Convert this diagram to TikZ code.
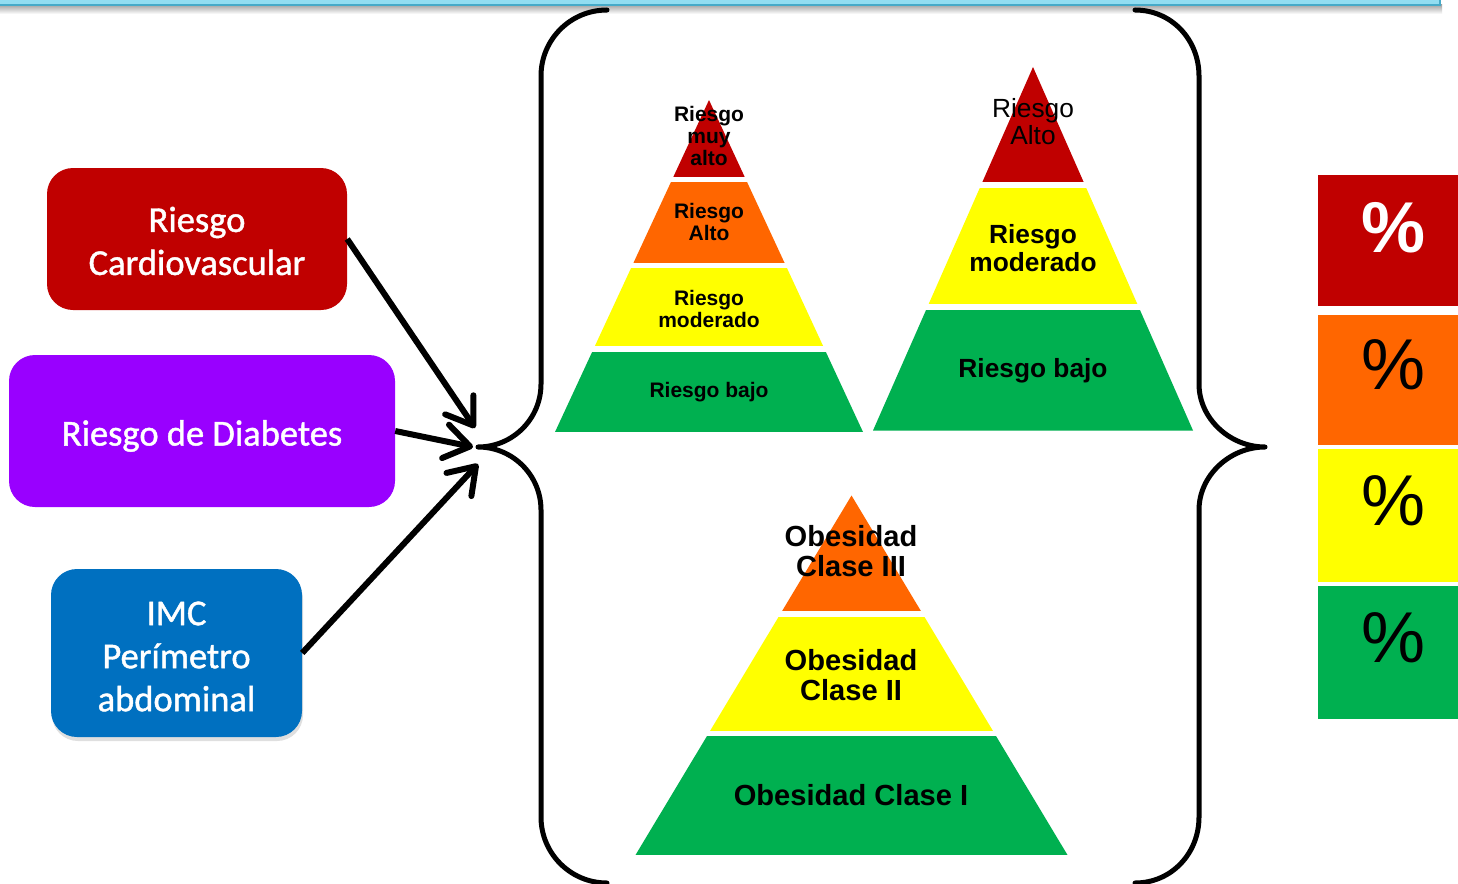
\documentclass[tikz,border=0pt]{standalone}
\usepackage{fontspec}
\setmainfont{Liberation Sans}
\newfontfamily\boxfont[FakeBold=1.2]{Carlito}
\usetikzlibrary{arrows.meta,shadows}

\definecolor{cvred}{RGB}{192,0,0}
\definecolor{dbpurple}{RGB}{153,0,255}
\definecolor{imcblue}{RGB}{0,112,192}
\definecolor{lvorange}{RGB}{255,102,0}
\definecolor{lvyellow}{RGB}{255,255,0}
\definecolor{lvgreen}{RGB}{0,176,80}
\definecolor{barfill}{RGB}{146,221,241}
\definecolor{barline}{RGB}{70,170,200}

\tikzset{
  catbox/.style={rounded corners=26pt, inner sep=0pt},
  cattext/.style={inner sep=0pt, align=center, text=white,
    font=\boxfont\fontsize{36.5}{43}\selectfont},
  brace/.style={line width=5pt, line cap=round, line join=round},
  feed/.style={line width=6pt, -{Straight Barb[length=25pt,width=34pt,round]}},
  lvl/.style={align=center, text=black},
  pctbox/.style={inner sep=0pt, minimum width=150pt},
  pcttext/.style={font=\fontsize{72}{72}\selectfont, inner sep=0pt},
}

\begin{document}
\begin{tikzpicture}[x=1pt,y=-1pt]
\useasboundingbox (0,0) rectangle (1458,883);
\fill[white] (0,0) rectangle (1458,883);

% title bar along the top edge
\shade[top color=black!35, bottom color=white] (0,5) rectangle (1442,14);
\draw[fill=barfill, draw=barline, line width=1.2pt] (-5,-20) rectangle (1440,5);

% input categories
\node[catbox, fill=cvred, minimum width=300pt, minimum height=142pt] (cv) at (197,239) {};
\node[catbox, fill=dbpurple, minimum width=386pt, minimum height=152pt] (db) at (202,431) {};
\node[catbox, fill=imcblue, minimum width=251pt, minimum height=168pt,
      drop shadow={opacity=0.25, shadow xshift=1pt, shadow yshift=-4pt}] (imc) at (176.5,653) {};
\node[cattext] (cvt) at ([yshift=-2pt]cv.center) {Riesgo\\Cardiovascular};
\node[cattext] (dbt) at ([yshift=-5pt]db.center) {Riesgo de Diabetes};
\node[cattext] (imct) at ([yshift=-3.5pt]imc.center) {IMC\\Perímetro\\abdominal};

% converging point of the arrows
\coordinate (in1) at (475,428);
\coordinate (in2) at (473,447);
\coordinate (in3) at (478,464);
\draw[feed] (cv.east) -- (in1);
\draw[feed] (db.east) -- (in2);
\draw[feed] (imc.east) -- (in3);

% left brace
\draw[brace] (607,10) .. controls (570.5,10) and (541,39.5) .. (541,76) -- (541,384)
  .. controls (541,418.8) and (512.8,447) .. (478,447)
  .. controls (512.8,447) and (541,475.2) .. (541,510) -- (541,817)
  .. controls (541,853.4) and (570.5,883) .. (607,883);
% right brace
\draw[brace] (1135,10) .. controls (1171.5,10) and (1199,39.5) .. (1199,76) -- (1199,384)
  .. controls (1199,418.8) and (1230.2,447) .. (1265,447)
  .. controls (1230.2,447) and (1199,475.2) .. (1199,510) -- (1199,817)
  .. controls (1199,853.4) and (1171.5,883) .. (1135,883);

% cardiovascular risk pyramid
\begin{scope}
  \clip (709,100) -- (863,432) -- (555,432) -- cycle;
  \fill[cvred] (540,90) rectangle (880,176.5);
  \fill[lvorange] (540,181.5) rectangle (880,263);
  \fill[lvyellow] (540,268) rectangle (880,346);
  \fill[lvgreen] (540,351.5) rectangle (880,432);
\end{scope}
\begin{scope}[every node/.style={lvl, font=\bfseries\fontsize{21}{22}\selectfont}]
  \node (c1) at (709,136) {Riesgo\\muy\\alto};
  \node (c2) at (709,222) {Riesgo\\Alto};
  \node (c3) at (709,309) {Riesgo\\moderado};
  \node (c4) at (709,392) {Riesgo bajo};
\end{scope}

% diabetes risk pyramid
\begin{scope}
  \clip (1033,67) -- (1193,430.5) -- (873,430.5) -- cycle;
  \fill[cvred] (860,60) rectangle (1210,182);
  \fill[lvyellow] (860,187.7) rectangle (1210,304);
  \fill[lvgreen] (860,309.7) rectangle (1210,430.5);
\end{scope}
\node[lvl, font=\fontsize{26.3}{27}\selectfont] (d1) at (1033,122) {Riesgo\\Alto};
\node[lvl, font=\bfseries\fontsize{26.3}{28}\selectfont] (d2) at (1033,248) {Riesgo\\moderado};
\node[lvl, font=\bfseries\fontsize{26.3}{28}\selectfont] (d3) at (1033,371) {Riesgo bajo};

% obesity pyramid
\begin{scope}
  \clip (851.5,495.5) -- (1067.5,855) -- (635.5,855) -- cycle;
  \fill[lvorange] (620,480) rectangle (1080,611);
  \fill[lvyellow] (620,616.5) rectangle (1080,731);
  \fill[lvgreen] (620,736) rectangle (1080,855);
\end{scope}
\begin{scope}[every node/.style={lvl, font=\bfseries\fontsize{29.1}{30}\selectfont}]
  \node (o1) at (851,551) {Obesidad\\Clase III};
  \node (o2) at (851,675) {Obesidad\\Clase II};
  \node (o3) at (851,795) {Obesidad Clase I};
\end{scope}

% percentage column
\node[pctbox, fill=cvred, minimum height=131pt] (p1) at (1393,240.5) {};
\node[pctbox, fill=lvorange, minimum height=130pt] (p2) at (1393,380) {};
\node[pctbox, fill=lvyellow, minimum height=133pt] (p3) at (1393,515.5) {};
\node[pctbox, fill=lvgreen, minimum height=133pt] (p4) at (1393,652.5) {};
\node[pcttext, text=white, font=\bfseries\fontsize{72}{72}\selectfont] (t1) at ([yshift=13pt]p1.center) {\%};
\node[pcttext] (t2) at ([yshift=15pt]p2.center) {\%};
\node[pcttext] (t3) at ([yshift=15pt]p3.center) {\%};
\node[pcttext] (t4) at ([yshift=15pt]p4.center) {\%};
\end{tikzpicture}
\end{document}
